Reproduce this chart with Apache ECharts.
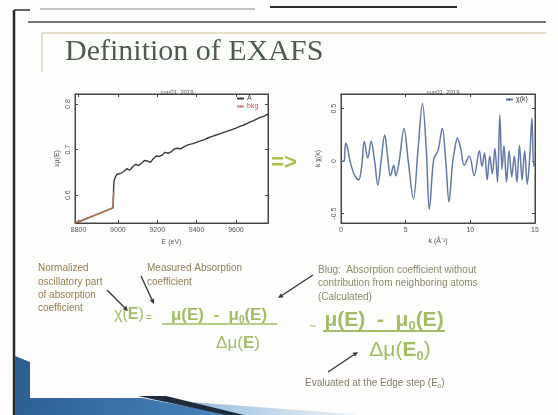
<!DOCTYPE html>
<html><head><meta charset="utf-8">
<script src="https://cdn.jsdelivr.net/npm/echarts@6/dist/echarts.min.js"></script>
<style>html,body{margin:0;padding:0;background:#fdfdfb;}#c{width:558px;height:415px;}</style>
</head><body><div id="c"></div>
<script>
// ---- data ----
const chartTitle = 'cup01_2019';
const energy = [8782, 8820, 8860, 8900, 8940, 8975, 8977, 8980, 8985, 8995, 9005, 9015, 9030, 9045, 9060, 9075, 9090, 9105, 9120, 9135, 9150, 9165, 9180, 9195, 9210, 9225, 9240, 9255, 9270, 9285, 9300, 9320, 9340, 9360, 9380, 9400, 9420, 9440, 9460, 9480, 9500, 9520, 9540, 9560, 9580, 9600, 9620, 9640, 9660, 9680, 9700, 9720, 9740, 9763];
const muE = [0.539, 0.545, 0.552, 0.559, 0.566, 0.572, 0.600, 0.630, 0.638, 0.646, 0.650, 0.648, 0.652, 0.658, 0.655, 0.662, 0.668, 0.665, 0.670, 0.676, 0.675, 0.672, 0.680, 0.686, 0.685, 0.688, 0.694, 0.692, 0.695, 0.701, 0.703, 0.702, 0.707, 0.711, 0.713, 0.716, 0.719, 0.722, 0.726, 0.729, 0.732, 0.735, 0.738, 0.741, 0.744, 0.747, 0.751, 0.754, 0.758, 0.762, 0.766, 0.770, 0.773, 0.778];
const bkgEnergy = [8782, 8860, 8940, 8975, 8977, 8980];
const bkgMu = [0.539, 0.552, 0.566, 0.572, 0.592, 0.608];
const kValues = [0, 0.25, 0.3, 0.37, 0.5, 0.7, 1.0, 1.36, 1.6, 1.8, 2.07, 2.33, 2.6, 2.85, 3.1, 3.38, 3.6, 3.82, 4.08, 4.24, 4.5, 4.87, 5.2, 5.6, 5.95, 6.3, 6.6, 6.83, 7.17, 7.5, 7.83, 8.1, 8.35, 8.6, 8.8, 9.0, 9.25, 9.53, 9.92, 10.3, 10.7, 10.9, 11.1, 11.3, 11.5, 11.7, 11.9, 12.1, 12.28, 12.45, 12.6, 12.8, 13.0, 13.2, 13.4, 13.6, 13.8, 14.0, 14.2, 14.4, 14.6, 14.76, 14.9, 15.0];
const chiK = [0, 0, 0.10, 0.17, 0.13, 0.0, -0.12, -0.18, -0.05, 0.19, 0.03, 0.19, 0.0, -0.23, 0.0, 0.25, 0.05, -0.14, -0.04, -0.14, 0.0, 0.31, 0.0, -0.36, 0.10, 0.55, 0.10, -0.46, 0.02, 0.10, 0.31, 0.0, -0.39, -0.05, 0.12, 0.22, 0.12, -0.04, 0.05, -0.14, 0.10, -0.05, 0.08, -0.18, 0.05, -0.12, 0.12, -0.20, 0.44, -0.08, 0.15, -0.20, 0.10, -0.15, 0.05, -0.20, 0.15, -0.18, 0.10, -0.22, 0.05, 0.41, -0.05, 0.0];
const eTickLabels = [8800, 9000, 9200, 9400, 9600];
const muTickLabels = [0.6, 0.7, 0.8];
const kTickLabels = [0, 5, 10, 15];
const chiTickLabels = [-0.5, 0, 0.5];

const pairs = (xs, ys) => xs.map((x, i) => [x, ys[i]]);
const chart = echarts.init(document.getElementById('c'));

const plain = v => String(v);
const baseLabel = {fontSize: 7, color: '#555', fontFamily: 'Liberation Sans', margin: 4, formatter: plain};
const baseTick = {inside: true, length: 3, lineStyle: {color: '#444'}};
function ax(extra) {
  return Object.assign({
    type: 'value', splitLine: {show: false},
    axisLine: {onZero: false, lineStyle: {color: '#444', width: 1}},
    axisTick: baseTick,
    minorTick: {show: false},
    axisLabel: baseLabel,
    nameTextStyle: {fontSize: 7, color: '#555', fontFamily: 'Liberation Sans'}
  }, extra);
}
const hiddenLabel = {show: false};
const lab = extra => Object.assign({}, baseLabel, extra);
const tick = vals => Object.assign({}, baseTick, {customValues: vals});

const green = '#a2bd66';
const annot = '#8e7f5c';
const ff = 'Liberation Sans';

function arrow(x1, y1, x2, y2) {
  const a = Math.atan2(y2 - y1, x2 - x1), L = 5, W = 2.4;
  const bx = x2 - L * Math.cos(a), by = y2 - L * Math.sin(a);
  return [
    {type: 'line', shape: {x1: x1, y1: y1, x2: bx, y2: by}, style: {stroke: '#3a3a3a', lineWidth: 1.4}, z: 20},
    {type: 'polygon', shape: {points: [[x2, y2], [bx - W * Math.sin(a), by + W * Math.cos(a)], [bx + W * Math.sin(a), by - W * Math.cos(a)]]}, style: {fill: '#3a3a3a'}, z: 20}
  ];
}

const formulaRich = (fs, weight) => ({
  n: {fontSize: fs, fontWeight: weight, fill: green, fontFamily: ff, lineHeight: fs + 4, verticalAlign: 'middle'},
  s: {fontSize: Math.round(fs * 0.6), fontWeight: weight, fill: green, fontFamily: ff, lineHeight: Math.round(fs * 0.6), verticalAlign: 'bottom'}
});

const graphics = [
  // slide frame
  {type: 'line', shape: {x1: 40, y1: 9, x2: 255, y2: 9}, style: {stroke: '#8a8a8a', lineWidth: 1.2}},
  {type: 'line', shape: {x1: 270, y1: 7, x2: 457, y2: 7}, style: {stroke: '#2e2e2e', lineWidth: 2}},
  {type: 'line', shape: {x1: 14, y1: 10, x2: 30, y2: 10}, style: {stroke: '#2e2e2e', lineWidth: 1.5}},
  {type: 'line', shape: {x1: 14, y1: 10, x2: 14, y2: 415}, style: {stroke: '#2b2b2b', lineWidth: 2.5}},
  {type: 'line', shape: {x1: 28, y1: 22, x2: 546, y2: 22}, style: {stroke: '#4a4a4a', lineWidth: 1.4}},
  {type: 'line', shape: {x1: 42, y1: 33, x2: 546, y2: 33}, style: {stroke: '#dcd5b8', lineWidth: 1.5}},
  {type: 'line', shape: {x1: 42, y1: 33, x2: 42, y2: 72}, style: {stroke: '#dcd5b8', lineWidth: 1.5}},
  // bottom-left blue decoration
  {type: 'polygon', shape: {points: [[15, 356], [30, 362], [30, 398], [142, 398], [232, 415], [15, 415]]},
   style: {fill: {type: 'linear', x: 0, y: 0, x2: 1, y2: 1, colorStops: [{offset: 0, color: '#2b5d90'}, {offset: 1, color: '#4a86bf'}]}}},
  {type: 'polygon', shape: {points: [[150, 399], [365, 415], [236, 415]]},
   style: {fill: {type: 'linear', x: 0, y: 0, x2: 1, y2: 0, colorStops: [{offset: 0, color: '#6fa2d2'}, {offset: 1, color: 'rgba(190,215,235,0.3)'}]}}},
  {type: 'polygon', shape: {points: [[138, 396], [166, 396], [244, 415], [226, 415]]}, style: {fill: '#1f2c3d'}},
  // title
  {type: 'text', x: 65, y: 37, style: {text: 'Definition of EXAFS', fontSize: 30, fontFamily: 'Liberation Serif', fill: '#4e5d54'}},
  // arrow between charts
  {type: 'text', x: 284, y: 163, style: {text: '=>', fontSize: 22, fontWeight: 'bold', fontFamily: ff, fill: '#a9c24f', align: 'center', verticalAlign: 'middle'}},
  // annotations
  {type: 'text', x: 38, y: 262, style: {text: 'Normalized\noscillatory part\nof absorption\ncoefficient', fontSize: 10, lineHeight: 13.3, fontFamily: ff, fill: '#93804f'}},
  {type: 'text', x: 147, y: 262, style: {text: 'Measured Absorption\ncoefficient', fontSize: 10, lineHeight: 13.3, fontFamily: ff, fill: annot}},
  {type: 'text', x: 318, y: 263, style: {text: 'Blug:  Absorption coefficient without\ncontribution from neighboring atoms\n(Calculated)', fontSize: 10, lineHeight: 13.8, fontFamily: ff, fill: '#8d8a6c'}},
  {type: 'text', x: 305, y: 383, style: {rich: {a: {fontSize: 10, fontFamily: ff, fill: '#857c68', verticalAlign: 'middle', lineHeight: 12}, b: {fontSize: 6, fontFamily: ff, fill: '#857c68', verticalAlign: 'bottom', lineHeight: 6}}, text: '{a|Evaluated at the Edge step (E}{b|0}{a|)}', verticalAlign: 'middle'}},
  // formula 1
  {type: 'text', x: 114, y: 315, style: {rich: {c: {fontSize: 16, fontFamily: ff, fill: green}, e: {fontSize: 16, fontWeight: 'bold', fontFamily: ff, fill: green}}, text: '{c|χ(}{e|E}{c|)}', verticalAlign: 'middle'}},
  {type: 'text', x: 149, y: 318, style: {text: '=', fontSize: 10, fontFamily: ff, fill: green, align: 'center', verticalAlign: 'middle'}},
  {type: 'text', x: 219, y: 315, style: {rich: formulaRich(17, 'bold'), text: '{n|μ(E)  -  μ}{s|0}{n|(E)}', align: 'center', verticalAlign: 'middle'}},
  {type: 'line', shape: {x1: 162, y1: 324, x2: 277, y2: 324}, style: {stroke: green, lineWidth: 1.5}},
  {type: 'text', x: 238, y: 343, style: {rich: {c: {fontSize: 17, fontFamily: ff, fill: green}, e: {fontSize: 17, fontWeight: 'bold', fontFamily: ff, fill: green}}, text: '{c|Δμ(}{e|E}{c|)}', align: 'center', verticalAlign: 'middle'}},
  // formula 2
  {type: 'text', x: 313, y: 327, style: {text: '~', fontSize: 12, fontFamily: ff, fill: green, align: 'center', verticalAlign: 'middle'}},
  {type: 'text', x: 384, y: 320, style: {rich: formulaRich(21, 'bold'), text: '{n|μ(E)  -  μ}{s|0}{n|(E)}', align: 'center', verticalAlign: 'middle'}},
  {type: 'line', shape: {x1: 323, y1: 331, x2: 445, y2: 331}, style: {stroke: green, lineWidth: 2}},
  {type: 'text', x: 400, y: 350, style: {rich: {n: {fontSize: 21, fill: green, fontFamily: ff, lineHeight: 25, verticalAlign: 'middle'}, b: {fontSize: 21, fontWeight: 'bold', fill: green, fontFamily: ff, lineHeight: 25, verticalAlign: 'middle'}, s: {fontSize: 13, fontWeight: 'bold', fill: green, fontFamily: ff, lineHeight: 13, verticalAlign: 'bottom'}}, text: '{n|Δμ(}{b|E}{s|0}{n|)}', align: 'center', verticalAlign: 'middle'}}
].concat(arrow(107, 290, 128, 311), arrow(141, 276, 154, 304), arrow(313, 275, 278, 298), arrow(328, 372, 358, 352));

const option = {
  backgroundColor: '#fdfdfb',
  animation: false,
  title: [
    {text: chartTitle, left: 172, top: 84, textAlign: 'center', textStyle: {fontSize: 6, fontWeight: 'normal', color: '#555', fontFamily: ff}},
    {text: chartTitle, left: 438, top: 84, textAlign: 'center', textStyle: {fontSize: 6, fontWeight: 'normal', color: '#555', fontFamily: ff}}
  ],
  legend: [
    {data: ['A', {name: 'bkg', textStyle: {color: '#c0504d'}}], orient: 'vertical', left: 236, top: 95, itemWidth: 7, itemHeight: 2, itemGap: 1, padding: 0, textStyle: {fontSize: 7, color: '#333', fontFamily: ff, padding: [0, 0, 0, -2]}},
    {data: ['χ(k)'], orient: 'vertical', left: 505, top: 96, itemWidth: 7, itemHeight: 2, padding: 0, textStyle: {fontSize: 7, color: '#333', fontFamily: ff, padding: [0, 0, 0, -2]}}
  ],
  grid: [
    {left: 75, right: 290, top: 94, bottom: 192, show: true, borderColor: '#444', borderWidth: 1, backgroundColor: '#fff'},
    {left: 341, right: 23, top: 94, bottom: 192, show: true, borderColor: '#444', borderWidth: 1, backgroundColor: '#fff'}
  ],
  xAxis: [
    ax({gridIndex: 0, min: 8782, max: 9763, name: 'E (eV)', nameLocation: 'middle', nameGap: 16,
        axisLabel: lab({customValues: eTickLabels}), axisTick: tick(eTickLabels)}),
    ax({gridIndex: 0, min: 8782, max: 9763, position: 'top', axisLabel: hiddenLabel, axisTick: tick(eTickLabels)}),
    ax({gridIndex: 1, min: 0, max: 15, name: 'k (Å⁻¹)', nameLocation: 'middle', nameGap: 15,
        axisLabel: lab({customValues: kTickLabels}), axisTick: tick(kTickLabels)}),
    ax({gridIndex: 1, min: 0, max: 15, position: 'top', axisLabel: hiddenLabel, axisTick: tick(kTickLabels)})
  ],
  yAxis: [
    ax({gridIndex: 0, min: 0.539, max: 0.822, name: 'xμ(E)', nameLocation: 'middle', nameGap: 14,
        axisLabel: lab({rotate: 90, margin: 3, customValues: muTickLabels}), axisTick: tick(muTickLabels)}),
    ax({gridIndex: 0, min: 0.539, max: 0.822, position: 'right', axisLabel: hiddenLabel, axisTick: tick(muTickLabels)}),
    ax({gridIndex: 1, min: -0.59, max: 0.64, name: 'k χ(k)', nameLocation: 'middle', nameGap: 19,
        axisLabel: lab({rotate: 90, margin: 3, customValues: chiTickLabels}), axisTick: tick(chiTickLabels)}),
    ax({gridIndex: 1, min: -0.59, max: 0.64, position: 'right', axisLabel: hiddenLabel, axisTick: tick(chiTickLabels)})
  ],
  series: [
    {name: 'A', type: 'line', xAxisIndex: 0, yAxisIndex: 0, data: pairs(energy, muE), symbol: 'none', lineStyle: {color: '#3b3b3b', width: 1.4}, itemStyle: {color: '#3b3b3b'}},
    {name: 'bkg', type: 'line', xAxisIndex: 0, yAxisIndex: 0, data: pairs(bkgEnergy, bkgMu), symbol: 'none', lineStyle: {color: '#c47a5a', width: 1.6, opacity: 0.85}, itemStyle: {color: '#c0504d'}},
    {name: 'χ(k)', type: 'line', xAxisIndex: 2, yAxisIndex: 2, data: pairs(kValues, chiK), symbol: 'none', smooth: 0.35, lineStyle: {color: '#6379a6', width: 1.5}, itemStyle: {color: '#333'}}
  ],
  graphic: graphics
};
chart.setOption(option);
</script>
</body></html>
